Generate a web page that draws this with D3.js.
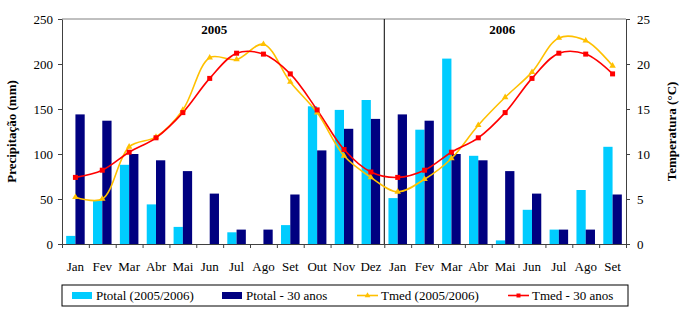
<!DOCTYPE html>
<html>
<head>
<meta charset="utf-8">
<title>Precipitação e temperatura</title>
<style>
	body { margin: 0; background: #fff; }
	svg text { font-family: "Times New Roman", "Liberation Serif", Tinos, "DejaVu Serif", serif !important; fill: #000; }
</style>
</head>
<body>
<svg id="canvas" width="682" height="310"></svg>
<script src="https://cdn.jsdelivr.net/npm/d3@7"></script>
<script>
	let months = ["Jan","Fev","Mar","Abr","Mai","Jun","Jul","Ago","Set","Out","Nov","Dez",
		"Jan","Fev","Mar","Abr","Mai","Jun","Jul","Ago","Set"];
	let ptotal0506 = [9, 48, 88, 44, 19, 0, 13, 0, 21, 153, 149, 160,
		51, 127, 206, 98, 4, 38, 16, 60, 108];
	let ptotal30 = [144, 137, 100, 93, 81, 56, 16, 16, 55, 104, 128, 139,
		144, 137, 100, 93, 81, 56, 16, 16, 55];
	let tmed0506 = [5.2, 5.0, 10.8, 11.9, 14.9, 20.7, 20.5, 22.2, 18.0, 14.6, 9.8, 7.4,
		5.8, 7.2, 9.5, 13.2, 16.3, 19.1, 22.9, 22.6, 19.8];
	let tmed30 = [7.4, 8.2, 10.2, 11.8, 14.6, 18.4, 21.2, 21.1, 18.9, 14.9, 10.5, 8.0,
		7.4, 8.2, 10.2, 11.8, 14.6, 18.4, 21.2, 21.1, 18.9];
	let years = [{label: "2005", from: 0, to: 11}, {label: "2006", from: 12, to: 20}];
	let pTicks = [0, 50, 100, 150, 200, 250];
	let tTicks = [0, 5, 10, 15, 20, 25];

	let svg = d3.select("#canvas");
	let margin = {top: 19, left: 62, right: 56, bottom: 66};
	let width = 682 - margin.left - margin.right;
	let height = 310 - margin.top - margin.bottom;

	let g = svg.append("g")
		.attr("transform", "translate(" + margin.left + "," + margin.top + ")");

	let idx = d3.range(months.length);
	let x = d3.scaleBand().domain(idx).range([0, width]);
	let xl = d3.scaleLinear().domain([0, months.length]).range([0, width]);
	let yP = d3.scaleLinear().domain([0, 250]).range([height, 0]);
	let yT = d3.scaleLinear().domain([0, 25]).range([height, 0]);
	let cx = function(i){ return x(i) + x.bandwidth() / 2; };

	// top border
	g.append("line").attr("x1", 0).attr("x2", width).attr("y1", 0).attr("y2", 0)
		.attr("stroke", "#808080");

	// year separator
	g.append("line")
		.attr("x1", xl(12)).attr("x2", xl(12)).attr("y1", 0).attr("y2", height)
		.attr("stroke", "#000");

	// bars
	let bw = x.bandwidth() * 0.345;
	g.selectAll("rect.p1").data(idx).enter().append("rect")
		.attr("x", function(i){ return cx(i) - bw; })
		.attr("y", function(i){ return yP(ptotal0506[i]); })
		.attr("width", bw)
		.attr("height", function(i){ return height - yP(ptotal0506[i]); })
		.attr("fill", "#00ccff");
	g.selectAll("rect.p2").data(idx).enter().append("rect")
		.attr("x", function(i){ return cx(i); })
		.attr("y", function(i){ return yP(ptotal30[i]); })
		.attr("width", bw)
		.attr("height", function(i){ return height - yP(ptotal30[i]); })
		.attr("fill", "#000080");

	// axes
	let xTicks = g.append("g").attr("transform", "translate(0," + height + ")")
		.call(d3.axisBottom(xl).tickValues(d3.range(months.length + 1)).tickFormat("").tickSize(4).tickSizeOuter(0));
	let xLabels = g.append("g").attr("transform", "translate(0," + height + ")")
		.call(d3.axisBottom(x).tickSize(0).tickPadding(23).tickFormat(function(i){ return months[i]; }));
	xLabels.select(".domain").remove();

	let yLeft = g.append("g")
		.call(d3.axisLeft(yP).tickValues(pTicks).tickSize(4).tickSizeOuter(0).tickPadding(5));
	let yRight = g.append("g").attr("transform", "translate(" + width + ",0)")
		.call(d3.axisRight(yT).tickValues(tTicks).tickSize(4).tickSizeOuter(0).tickPadding(7));

	[xTicks, xLabels, yLeft, yRight].forEach(function(a){
		a.attr("font-family", null).attr("font-size", null);
		a.selectAll("text").style("font-size", "13px");
		a.selectAll("line").attr("stroke", "#404040");
		a.select(".domain").attr("stroke", "#404040");
	});
	xLabels.selectAll("text").attr("dy", "0.32em");

	// temperature lines
	let line = function(arr){
		return d3.line()
			.x(function(i){ return cx(i); })
			.y(function(i){ return yT(arr[i]); })
			.curve(d3.curveCatmullRom.alpha(0.5))(idx);
	};
	g.append("path").attr("d", line(tmed0506)).attr("fill", "none")
		.attr("stroke", "#ffc000").attr("stroke-width", 1.6);
	g.append("path").attr("d", line(tmed30)).attr("fill", "none")
		.attr("stroke", "#ff0000").attr("stroke-width", 1.6);

	g.selectAll("path.tri").data(idx).enter().append("path")
		.attr("d", d3.symbol(d3.symbolTriangle).size(18))
		.attr("transform", function(i){ return "translate(" + cx(i) + "," + yT(tmed0506[i]) + ")"; })
		.attr("fill", "#ffc000");
	g.selectAll("rect.sq").data(idx).enter().append("rect")
		.attr("x", function(i){ return cx(i) - 2.5; })
		.attr("y", function(i){ return yT(tmed30[i]) - 2.5; })
		.attr("width", 5).attr("height", 5)
		.attr("fill", "#ff0000");

	// year titles
	g.selectAll("text.year").data(years).enter().append("text")
		.attr("x", function(d){ return (xl(d.from) + xl(d.to + 1)) / 2 - (d.from == 0 ? 9 : 3); })
		.attr("y", 15)
		.attr("text-anchor", "middle")
		.style("font-size", "13px").style("font-weight", "bold")
		.text(function(d){ return d.label; });

	// axis titles
	svg.append("text")
		.attr("transform", "translate(16," + (margin.top + height / 2) + ") rotate(-90)")
		.attr("text-anchor", "middle")
		.style("font-size", "13px").style("font-weight", "bold")
		.text("Precipitação (mm)");
	svg.append("text")
		.attr("transform", "translate(676," + (margin.top + height / 2) + ") rotate(-90)")
		.attr("text-anchor", "middle")
		.style("font-size", "13px").style("font-weight", "bold")
		.text("Temperatura (°C)");

	// legend
	let legend = svg.append("g").attr("transform", "translate(62,285)");
	legend.append("rect").attr("width", 566).attr("height", 21)
		.attr("fill", "#fff").attr("stroke", "#000");
	let items = [
		{name: "Ptotal (2005/2006)", color: "#00ccff", type: "bar", x: 10},
		{name: "Ptotal - 30 anos", color: "#000080", type: "bar", x: 160},
		{name: "Tmed (2005/2006)", color: "#ffc000", type: "tri", x: 295},
		{name: "Tmed - 30 anos", color: "#ff0000", type: "sq", x: 446}
	];
	items.forEach(function(d){
		let li = legend.append("g").attr("transform", "translate(" + d.x + ",0)");
		if (d.type == "bar") {
			li.append("rect").attr("x", 0).attr("y", 7).attr("width", 20).attr("height", 7).attr("fill", d.color);
		} else {
			li.append("line").attr("x1", 0).attr("x2", 21).attr("y1", 10.5).attr("y2", 10.5)
				.attr("stroke", d.color).attr("stroke-width", 1.6);
			if (d.type == "tri") {
				li.append("path").attr("d", d3.symbol(d3.symbolTriangle).size(14)())
					.attr("transform", "translate(10.5,10.5)").attr("fill", d.color);
			} else {
				li.append("rect").attr("x", 8.5).attr("y", 8.5).attr("width", 4).attr("height", 4).attr("fill", d.color);
			}
		}
		li.append("text").attr("x", 24).attr("y", 15)
			.style("font-size", "13px").text(d.name);
	});
</script>
</body>
</html>
